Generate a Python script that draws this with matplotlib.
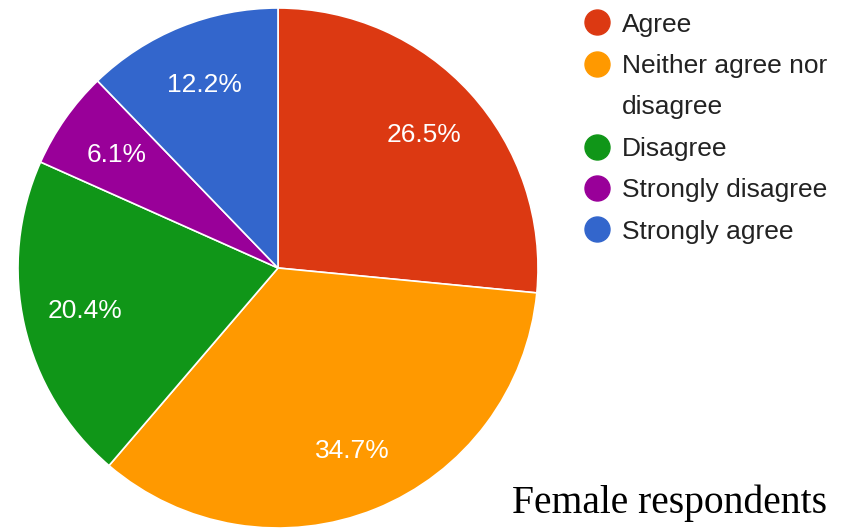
import matplotlib.pyplot as plt
from matplotlib.lines import Line2D

categories = ["Agree", "Neither agree nor", "Disagree", "Strongly disagree", "Strongly agree"]
percents = [26.5, 34.7, 20.4, 6.1, 12.2]
colors = ["#dc3912", "#ff9900", "#109618", "#990099", "#3366cc"]

fig = plt.figure(figsize=(8.61, 5.30), dpi=100)
ax = fig.add_axes([18 / 861, 2 / 530, 520 / 861, 520 / 530])

wedges, texts, autotexts = ax.pie(
    percents, colors=colors, startangle=90, counterclock=False,
    autopct=lambda p: "%.1f%%" % (p * sum(percents) / 100),
    pctdistance=0.76,
    wedgeprops=dict(edgecolor="white", linewidth=1.2),
    textprops=dict(color="white", fontsize=19, family="Liberation Sans"),
)
ax.set_xlim(-1, 1)
ax.set_ylim(-1, 1)
ax.set_aspect("equal")

# legend: second entry wraps onto a line without a marker
handles = []
labels = []
for i, c in enumerate(categories):
    handles.append(Line2D([], [], marker="o", linestyle="none", color=colors[i], markersize=18))
    labels.append(c)
    if i == 1:
        handles.append(Line2D([], [], linestyle="none"))
        labels.append("disagree")

leg = fig.legend(handles, labels, loc="upper left", bbox_to_anchor=(574 / 861, 1 - 2 / 530),
                 frameon=False, prop=dict(family="Liberation Sans", size=19),
                 labelspacing=0.66, handlelength=0.95, handletextpad=0.45, borderaxespad=0)
for t in leg.get_texts():
    t.set_color("#222222")

fig.text(512 / 861, 1 - 513 / 530, "Female respondents", family="Liberation Serif",
         fontsize=28.5, va="baseline", ha="left", color="black")

fig.savefig("out.png", dpi=100)
